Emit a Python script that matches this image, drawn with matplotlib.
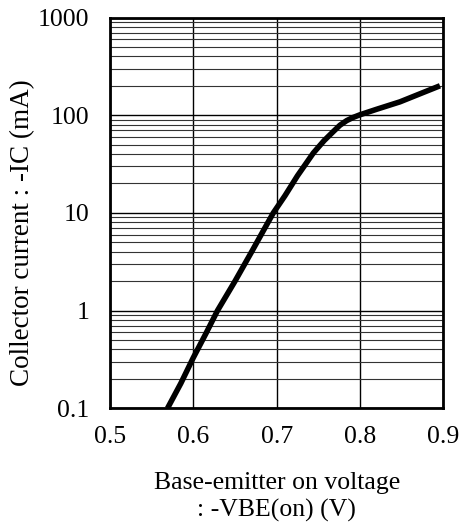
import matplotlib.pyplot as plt
from matplotlib.ticker import LogLocator, FixedLocator, NullFormatter

#datos
vbe = [0.569, 0.585, 0.600, 0.615, 0.629, 0.650, 0.670, 0.685, 0.696, 0.710, 0.725, 0.744,
       0.757, 0.768, 0.776, 0.784, 0.792, 0.800, 0.820, 0.848, 0.870, 0.896]
ic = [0.1, 0.18, 0.33, 0.58, 1.0, 2.0, 4.0, 6.8, 10.0, 15.0, 24.0, 41.0,
      55.0, 68.0, 79.0, 88.0, 95.0, 101.0, 115.0, 137.0, 163.0, 200.0]

xticks = [0.5, 0.6, 0.7, 0.8, 0.9]
yticks = [0.1, 1, 10, 100, 1000]
ytick_labels = ["0.1", "1", "10", "100", "1000"]

plt.rcParams['font.family'] = ['Liberation Serif', 'DejaVu Serif']
plt.rcParams['font.size'] = 18.5

fig = plt.figure(figsize=(4.66, 5.26), dpi=100)
ax = fig.add_axes([110 / 466, 1 - 408.3 / 526, 333.3 / 466, 390.8 / 526])

ax.plot(vbe, ic, color="black", linewidth=4, solid_capstyle="butt", solid_joinstyle="round")

ax.set_yscale("log")
ax.set_xlim(0.5, 0.9)
ax.set_ylim(0.1, 1000)
ax.xaxis.set_major_locator(FixedLocator(xticks))
ax.set_xticklabels([f"{v:.1f}" for v in xticks])
ax.yaxis.set_major_locator(FixedLocator(yticks))
ax.set_yticklabels(ytick_labels)
ax.yaxis.set_minor_locator(LogLocator(base=10, subs=range(2, 10)))
ax.yaxis.set_minor_formatter(NullFormatter())

ax.grid(True, which="major", color="black", linewidth=1.0)
ax.grid(True, which="minor", axis="y", color="#333333", linewidth=0.8)
ax.tick_params(which="both", length=0)
ax.tick_params(axis="y", pad=15)
ax.tick_params(axis="x", pad=13)

for s in ax.spines.values():
    s.set_linewidth(2)

#etiqueta del eje y colocada a mano, como en la referencia
fig.text(23 / 466, 1 - 233 / 526, "Collector current : -IC (mA)", rotation=90,
         ha="center", va="center", fontsize=19.5)
ax.set_xlabel("Base-emitter on voltage\n: -VBE(on) (V)", labelpad=17, linespacing=1.3)

fig.savefig("out.png", dpi=100)
